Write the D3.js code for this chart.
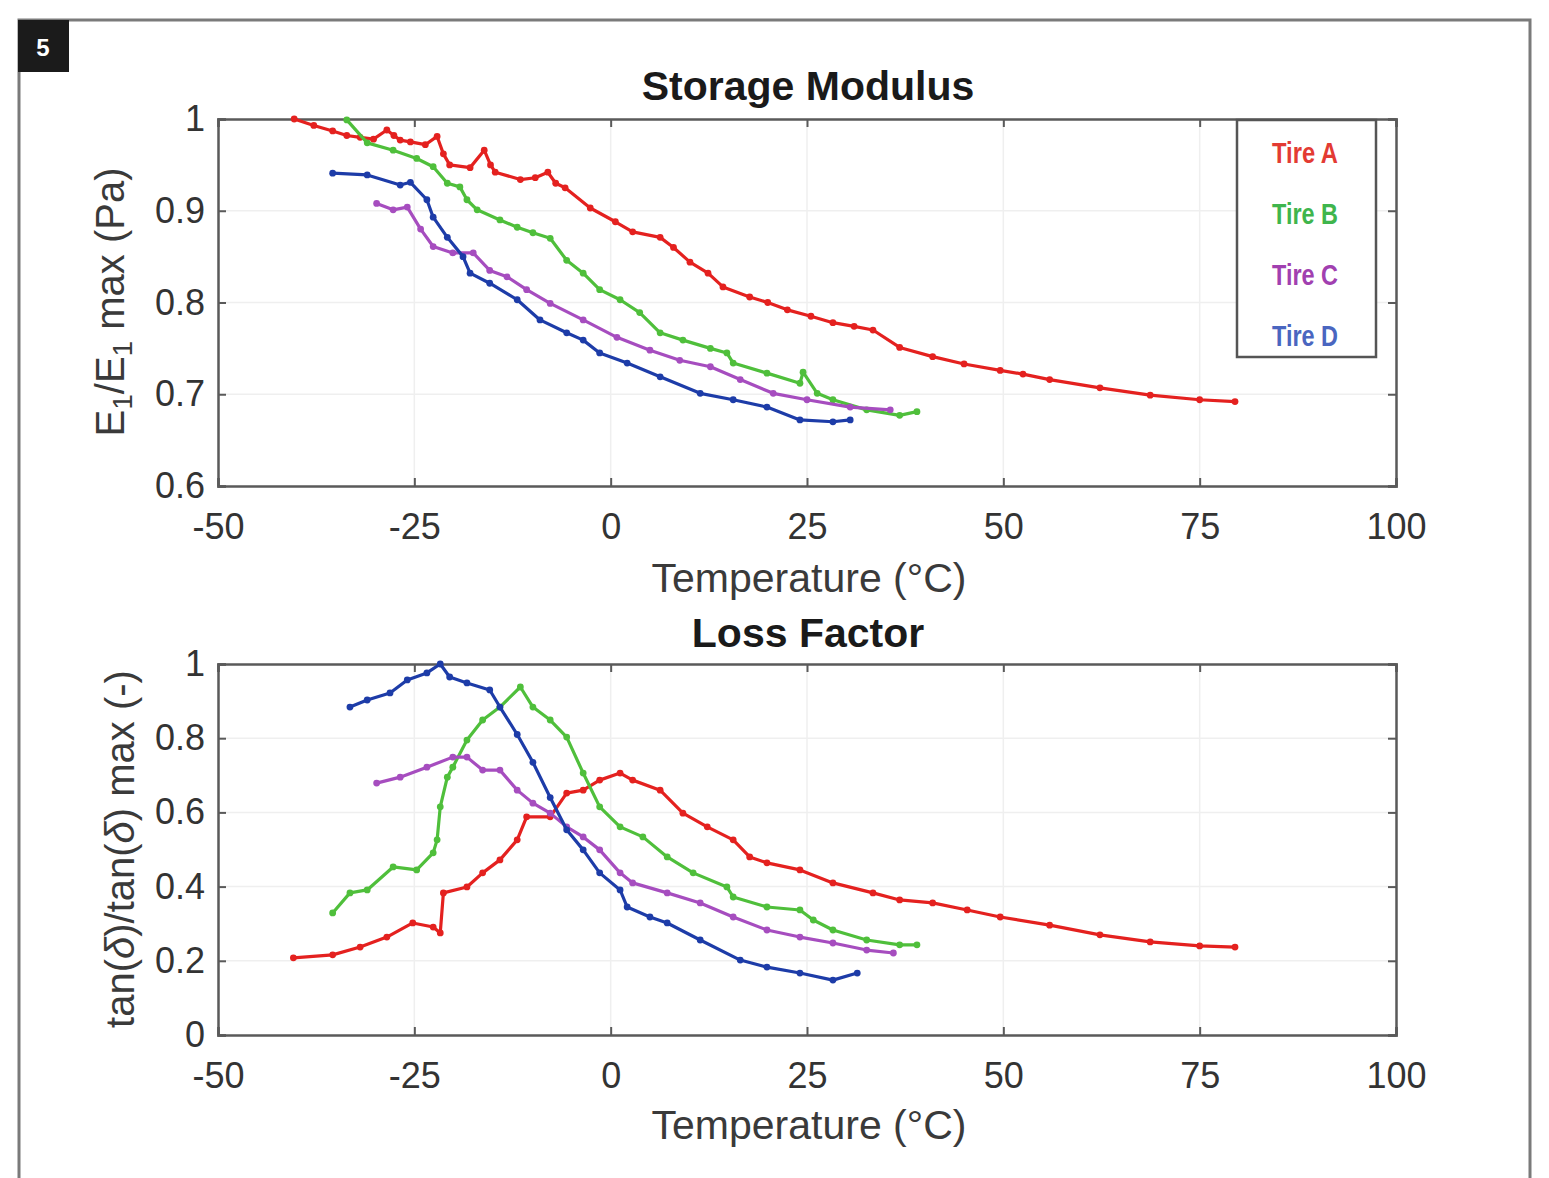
<!DOCTYPE html>
<html><head><meta charset="utf-8">
<script src="https://cdn.jsdelivr.net/npm/d3@7"></script>
<style>
html,body{margin:0;padding:0;background:#fff;}
svg{display:block;}
text{font-family:"Liberation Sans",Arial,Helvetica,sans-serif;}
</style></head>
<body>
<svg id="chart" width="1549" height="1178"></svg>
<script>
// ---------- DATA ----------
const tires = ["Tire A", "Tire B", "Tire C", "Tire D"];
const tireColors = ["#e4211f", "#4fbf3b", "#a64dbf", "#1d3ca8"];
const legendColors = ["#e33b33", "#3fb54d", "#a140b0", "#4a66c0"];

const xTicks = [-50, -25, 0, 25, 50, 75, 100];
const storageTicks = [0.6, 0.7, 0.8, 0.9, 1];
const lossTicks = [0, 0.2, 0.4, 0.6, 0.8, 1];

// Storage modulus, E1/E1max, [temperature °C, value]
const storageA = [[-40.3,1.000],[-37.8,0.993],[-35.4,0.987],[-33.6,0.982],[-31.9,0.980],[-30.2,0.978],[-28.5,0.988],[-27.6,0.982],[-26.8,0.977],[-25.5,0.975],[-23.6,0.972],[-22.1,0.981],[-21.3,0.962],[-20.5,0.950],[-17.9,0.947],[-16.1,0.966],[-15.3,0.950],[-14.7,0.942],[-11.5,0.934],[-9.6,0.936],[-8.0,0.942],[-7.0,0.930],[-5.8,0.925],[-2.6,0.903],[0.6,0.888],[2.8,0.877],[6.3,0.871],[8.0,0.860],[10.1,0.844],[12.4,0.832],[14.3,0.817],[17.7,0.806],[20.0,0.800],[22.5,0.792],[25.5,0.785],[28.3,0.778],[31.0,0.774],[33.4,0.770],[36.8,0.751],[41.0,0.741],[45.0,0.733],[49.6,0.726],[52.5,0.722],[55.9,0.716],[62.3,0.707],[68.7,0.699],[75.0,0.694],[79.5,0.692]];
const storageB = [[-33.6,0.999],[-31.0,0.974],[-27.7,0.966],[-24.7,0.957],[-22.6,0.948],[-20.8,0.930],[-19.2,0.926],[-18.3,0.912],[-17.0,0.901],[-14.1,0.890],[-11.9,0.882],[-9.9,0.876],[-7.7,0.870],[-5.6,0.846],[-3.5,0.832],[-1.4,0.814],[1.2,0.803],[3.7,0.789],[6.3,0.767],[9.2,0.759],[12.7,0.750],[14.8,0.745],[15.6,0.734],[19.9,0.723],[24.1,0.712],[24.5,0.724],[26.3,0.701],[28.3,0.694],[32.6,0.683],[36.8,0.677],[39.0,0.681]];
const storageC = [[-29.8,0.908],[-27.7,0.901],[-25.9,0.904],[-24.2,0.880],[-22.6,0.861],[-20.1,0.854],[-17.5,0.854],[-15.4,0.835],[-13.2,0.828],[-10.7,0.814],[-7.7,0.799],[-3.5,0.781],[0.8,0.762],[5.0,0.748],[8.8,0.737],[12.7,0.730],[16.5,0.716],[20.7,0.701],[25.0,0.694],[30.5,0.686],[35.6,0.683]];
const storageD = [[-35.4,0.941],[-31.0,0.939],[-26.8,0.928],[-25.5,0.931],[-23.4,0.912],[-22.6,0.893],[-20.8,0.871],[-18.8,0.850],[-17.9,0.832],[-15.4,0.821],[-11.9,0.803],[-9.0,0.781],[-5.6,0.767],[-3.5,0.759],[-1.4,0.745],[2.1,0.734],[6.3,0.719],[11.4,0.701],[15.6,0.694],[19.9,0.686],[24.1,0.672],[28.3,0.670],[30.5,0.672]];

// Loss factor, tan(δ)/tan(δ)max, [temperature °C, value]
const lossA = [[-40.4,0.208],[-35.4,0.216],[-31.9,0.237],[-28.5,0.264],[-25.2,0.302],[-22.6,0.291],[-21.7,0.275],[-21.3,0.383],[-18.3,0.399],[-16.3,0.437],[-14.1,0.472],[-11.9,0.526],[-10.7,0.588],[-7.7,0.588],[-5.6,0.652],[-3.5,0.660],[-1.4,0.687],[1.2,0.706],[2.8,0.687],[6.3,0.660],[9.2,0.598],[12.3,0.561],[15.6,0.526],[17.7,0.480],[19.9,0.464],[24.1,0.445],[28.3,0.410],[33.4,0.383],[36.8,0.364],[41.0,0.356],[45.4,0.337],[49.6,0.318],[55.9,0.296],[62.3,0.270],[68.7,0.251],[75.0,0.240],[79.5,0.237]];
const lossB = [[-35.4,0.329],[-33.2,0.383],[-31.0,0.391],[-27.7,0.453],[-24.7,0.445],[-22.6,0.491],[-22.1,0.526],[-21.7,0.615],[-20.8,0.695],[-20.1,0.722],[-18.3,0.795],[-16.3,0.849],[-14.1,0.884],[-11.5,0.938],[-9.9,0.884],[-7.7,0.849],[-5.6,0.803],[-3.5,0.706],[-1.4,0.615],[1.2,0.561],[4.1,0.534],[7.2,0.480],[10.5,0.437],[14.8,0.399],[15.6,0.372],[19.9,0.345],[24.1,0.337],[25.8,0.310],[28.3,0.283],[32.6,0.256],[36.8,0.243],[39.0,0.243]];
const lossC = [[-29.8,0.679],[-26.8,0.695],[-23.4,0.722],[-20.1,0.749],[-18.3,0.749],[-16.3,0.714],[-14.1,0.714],[-11.9,0.660],[-9.9,0.625],[-7.7,0.598],[-5.6,0.561],[-3.5,0.534],[-1.4,0.499],[1.2,0.437],[2.8,0.410],[7.2,0.383],[11.4,0.356],[15.6,0.318],[19.9,0.283],[24.1,0.264],[28.3,0.248],[32.6,0.229],[36.0,0.221]];
const lossD = [[-33.2,0.884],[-31.0,0.903],[-28.1,0.922],[-25.9,0.957],[-23.4,0.976],[-21.7,1.000],[-20.5,0.965],[-18.3,0.949],[-15.4,0.930],[-14.1,0.884],[-11.9,0.810],[-9.9,0.735],[-7.7,0.640],[-5.6,0.553],[-3.5,0.499],[-1.4,0.437],[1.2,0.391],[2.1,0.345],[5.0,0.318],[7.2,0.302],[11.4,0.256],[16.5,0.202],[19.9,0.183],[24.1,0.167],[28.3,0.148],[31.4,0.167]];

// ---------- DRAW ----------
const svg = d3.select("#chart");

// outer frame
svg.append("path").attr("d","M19,1178 L19,20 L1530,20 L1530,1178")
  .attr("fill","none").attr("stroke","#7a7a7a").attr("stroke-width",3);
svg.append("rect").attr("x",18).attr("y",20).attr("width",51).attr("height",52).attr("fill","#1b1b1b");
svg.append("text").attr("x",43).attr("y",56).attr("text-anchor","middle")
  .attr("fill","#fff").attr("font-size",24).attr("font-weight","bold").text("5");

const x = d3.scaleLinear().domain([-50,100]).range([218,1396]);

function panel(cfg){
  const y = d3.scaleLinear().domain(cfg.domain).range([cfg.bottom, cfg.top]);
  const g = svg.append("g");
  // faint grid
  g.selectAll(".gx").data(xTicks.slice(1,-1)).join("line")
    .attr("x1",d=>x(d)).attr("x2",d=>x(d)).attr("y1",cfg.top).attr("y2",cfg.bottom)
    .attr("stroke","#efefef").attr("stroke-width",1.5);
  g.selectAll(".gy").data(cfg.ticks.slice(1,-1)).join("line")
    .attr("y1",d=>y(d)).attr("y2",d=>y(d)).attr("x1",218).attr("x2",1396)
    .attr("stroke","#efefef").attr("stroke-width",1.5);

  // axes with inward ticks
  const axB = d3.axisBottom(x).tickValues(xTicks).tickSize(-8).tickPadding(27).tickFormat(d=>String(d));
  const axT = d3.axisTop(x).tickValues(xTicks).tickSize(-8).tickFormat("");
  const axL = d3.axisLeft(y).tickValues(cfg.ticks).tickSize(-8).tickPadding(13).tickFormat(d=>String(d));
  const axR = d3.axisRight(y).tickValues(cfg.ticks).tickSize(-8).tickFormat("");
  const styleAx = s => {
    s.select(".domain").attr("stroke","#5a5a5a").attr("stroke-width",2.5);
    s.selectAll(".tick line").attr("stroke","#5a5a5a").attr("stroke-width",2);
    s.selectAll(".tick text").attr("fill","#333").attr("font-size",36).attr("font-family","'Liberation Sans',Arial,sans-serif");
  };
  g.append("g").attr("transform",`translate(0,${cfg.bottom})`).call(axB).call(styleAx);
  g.append("g").attr("transform",`translate(0,${cfg.top})`).call(axT).call(styleAx);
  g.append("g").attr("transform",`translate(218,0)`).call(axL).call(styleAx);
  g.append("g").attr("transform",`translate(1396,0)`).call(axR).call(styleAx);

  // series
  const line = d3.line().x(d=>x(d[0])).y(d=>y(d[1]));
  cfg.series.forEach((s,i)=>{
    g.append("path").datum(s).attr("d",line).attr("fill","none")
      .attr("stroke",tireColors[i]).attr("stroke-width",3.2).attr("stroke-linejoin","round");
    g.selectAll(".pt"+i).data(s).join("circle").attr("cx",d=>x(d[0])).attr("cy",d=>y(d[1]))
      .attr("r",3.4).attr("fill",tireColors[i]);
  });

  // title
  svg.append("text").attr("x",808).attr("y",cfg.titleY).attr("text-anchor","middle")
    .attr("font-size",41).attr("font-weight","bold").attr("fill","#1a1a1a").text(cfg.title);
  // x label
  svg.append("text").attr("x",809).attr("y",cfg.xlabY).attr("text-anchor","middle")
    .attr("font-size",41).attr("fill","#3a3a3a").text("Temperature (°C)");
  return y;
}

panel({top:119, bottom:486, domain:[0.6,1], ticks:storageTicks,
  series:[storageA,storageB,storageC,storageD], title:"Storage Modulus", titleY:100, xlabY:592});
panel({top:664, bottom:1035, domain:[0,1], ticks:lossTicks,
  series:[lossA,lossB,lossC,lossD], title:"Loss Factor", titleY:647, xlabY:1139});

// y labels
const yl1 = svg.append("text").attr("transform","translate(124,302) rotate(-90)")
  .attr("text-anchor","middle").attr("font-size",40).attr("fill","#3a3a3a");
yl1.append("tspan").text("E");
yl1.append("tspan").attr("font-size",28).attr("baseline-shift","-30%").text("1");
yl1.append("tspan").text("/E");
yl1.append("tspan").attr("font-size",28).attr("baseline-shift","-30%").text("1");
yl1.append("tspan").text(" max (Pa)");

const yl2 = svg.append("text").attr("transform","translate(134,849) rotate(-90)")
  .attr("text-anchor","middle").attr("font-size",40).attr("fill","#3a3a3a");
yl2.append("tspan").text("tan(");
yl2.append("tspan").attr("font-style","italic").text("δ");
yl2.append("tspan").text(")/tan(");
yl2.append("tspan").attr("font-style","italic").text("δ");
yl2.append("tspan").text(") max (-)");

// legend
svg.append("rect").attr("x",1237).attr("y",120).attr("width",139).attr("height",237)
  .attr("fill","#fff").attr("stroke","#555").attr("stroke-width",2.5);
svg.selectAll(".leg").data(tires).join("text")
  .attr("x",1305).attr("y",(d,i)=>163+i*61).attr("text-anchor","middle")
  .attr("font-family","'Liberation Sans Narrow','DejaVu Sans Condensed',sans-serif")
  .attr("font-weight","bold").attr("font-size",29)
  .attr("textLength",66).attr("lengthAdjust","spacingAndGlyphs")
  .attr("fill",(d,i)=>legendColors[i]).text(d=>d);
</script>
</body></html>
